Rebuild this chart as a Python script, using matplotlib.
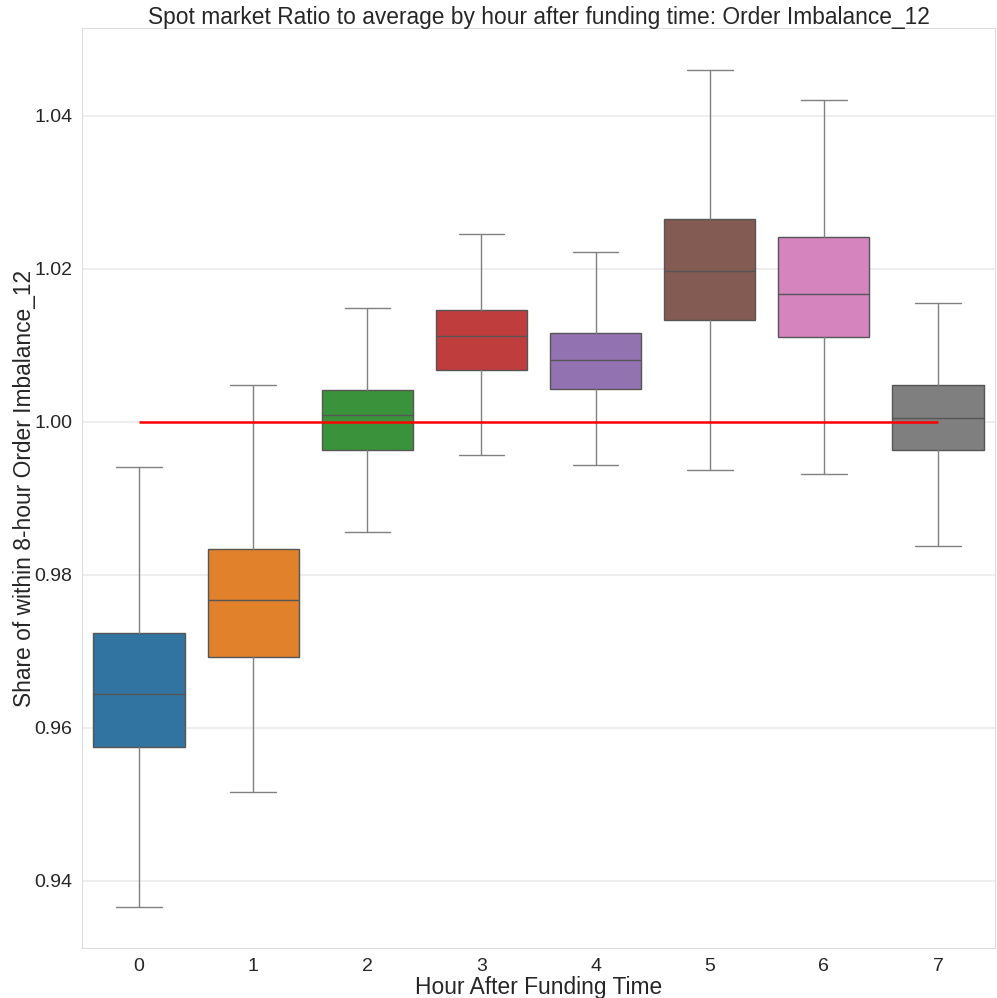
import matplotlib.pyplot as plt
import seaborn as sns

# hours after funding time and box statistics
hours = [0, 1, 2, 3, 4, 5, 6, 7]
whisker_low = [0.9366, 0.9516, 0.9856, 0.9957, 0.9944, 0.9937, 0.9932, 0.9837]
q1 = [0.9575, 0.9693, 0.9963, 1.0068, 1.0043, 1.0133, 1.0111, 0.9963]
medians = [0.9644, 0.9767, 1.0009, 1.0112, 1.0081, 1.0197, 1.0167, 1.0005]
q3 = [0.9724, 0.9834, 1.0041, 1.0146, 1.0116, 1.0265, 1.0241, 1.0048]
whisker_high = [0.9941, 1.0048, 1.0149, 1.0246, 1.0222, 1.0460, 1.0421, 1.0156]

sns.set_style("whitegrid")
plt.rcParams['font.family'] = ['Liberation Sans', 'DejaVu Sans']

stats = []
for i in range(len(hours)):
    stats.append({'label': str(hours[i]), 'whislo': whisker_low[i], 'q1': q1[i],
                  'med': medians[i], 'q3': q3[i], 'whishi': whisker_high[i],
                  'fliers': []})

colors = [sns.desaturate(c, 0.75) for c in sns.color_palette("tab10", 8)]

fig = plt.figure(figsize=(9.97, 9.98), dpi=100)
ax = fig.add_axes([0.0823, 0.0501, 0.9157, 0.9219])

bp = ax.bxp(stats, positions=hours, widths=0.8, patch_artist=True,
            boxprops=dict(edgecolor='#555555', linewidth=1.0),
            medianprops=dict(color='#555555', linewidth=1.0),
            whiskerprops=dict(color='#808080', linewidth=1.0),
            capprops=dict(color='#808080', linewidth=1.0),
            capwidths=0.4)
for patch, c in zip(bp['boxes'], colors):
    patch.set_facecolor(c)

ax.hlines(1.0, hours[0], hours[-1], color='red', linewidth=1.8, zorder=5)

ax.set_xlim(-0.5, 7.5)
ax.set_ylim(0.9312, 1.0515)
ax.set_yticks([0.94, 0.96, 0.98, 1.00, 1.02, 1.04])
ax.grid(axis='x', visible=False)
ax.grid(axis='y', color='#ebebeb', linewidth=1.2)
ax.tick_params(labelsize=14, colors='#262626')
ax.set_xlabel("Hour After Funding Time", fontsize=16.4, labelpad=1)
ax.set_ylabel("Share of within 8-hour Order Imbalance_12", fontsize=16.4, labelpad=-1)
ax.set_title("Spot market Ratio to average by hour after funding time: Order Imbalance_12",
             fontsize=16.4, pad=3)
for s in ax.spines.values():
    s.set_color('#dddddd')

fig.savefig("out.png", dpi=100)
